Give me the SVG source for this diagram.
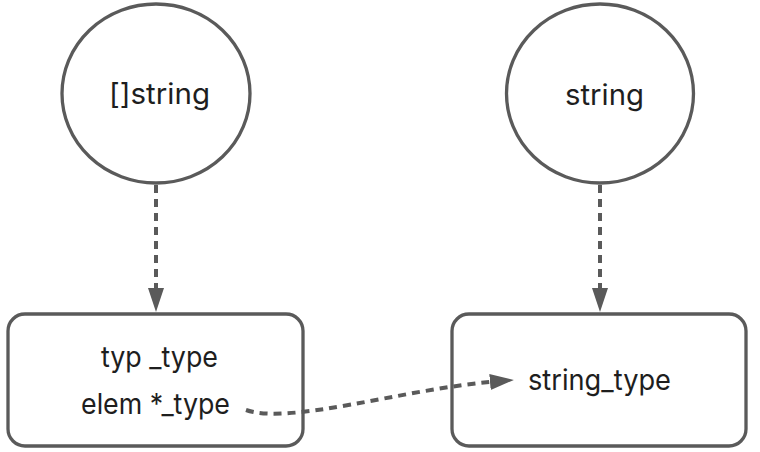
<svg xmlns="http://www.w3.org/2000/svg" width="760" height="452" viewBox="0 0 760 452">
  <style>
    .shape { fill: #ffffff; stroke: #5a5a5a; stroke-width: 3.3; }
    .label { font-family: Inter, "Liberation Sans", sans-serif; font-size: 28.5px; fill: #1e1e1e; }
    .edge { fill: none; stroke: #5a5a5a; stroke-width: 4; stroke-dasharray: 8 6; }
  </style>
  <defs>
    <marker id="arrow" markerUnits="userSpaceOnUse" markerWidth="24" markerHeight="16" refX="0" refY="8" orient="auto">
      <path d="M0,0 L24,8 L0,16 z" fill="#5a5a5a"/>
    </marker>
  </defs>
  <rect width="760" height="452" fill="#ffffff"/>
  <g id="node-slice-string">
    <ellipse class="shape" cx="156" cy="93.5" rx="94" ry="89.5"/>
    <text class="label" x="109" y="104" textLength="101" lengthAdjust="spacingAndGlyphs">[]string</text>
  </g>
  <g id="node-string">
    <ellipse class="shape" cx="600" cy="93.5" rx="93.5" ry="89.5"/>
    <text class="label" x="565" y="105" textLength="79" lengthAdjust="spacingAndGlyphs">string</text>
  </g>
  <g id="node-slicetype">
    <rect class="shape" x="8" y="314" width="295" height="132" rx="17" ry="17"/>
    <text class="label" x="101" y="367" textLength="117" lengthAdjust="spacingAndGlyphs">typ _type</text>
    <text class="label" x="81" y="414" textLength="149" lengthAdjust="spacingAndGlyphs">elem *_type</text>
  </g>
  <g id="node-string-type">
    <rect class="shape" x="452" y="314" width="294" height="132" rx="17" ry="17"/>
    <text class="label" x="528" y="390" textLength="143" lengthAdjust="spacingAndGlyphs">string_type</text>
  </g>
  <g id="connectors">
    <path class="edge" d="M156,185 L156,288" marker-end="url(#arrow)"/>
    <path class="edge" d="M600,185 L600,288" marker-end="url(#arrow)"/>
    <path class="edge" d="M246,410 C290,425 400,390 490,382" marker-end="url(#arrow)"/>
  </g>
</svg>
